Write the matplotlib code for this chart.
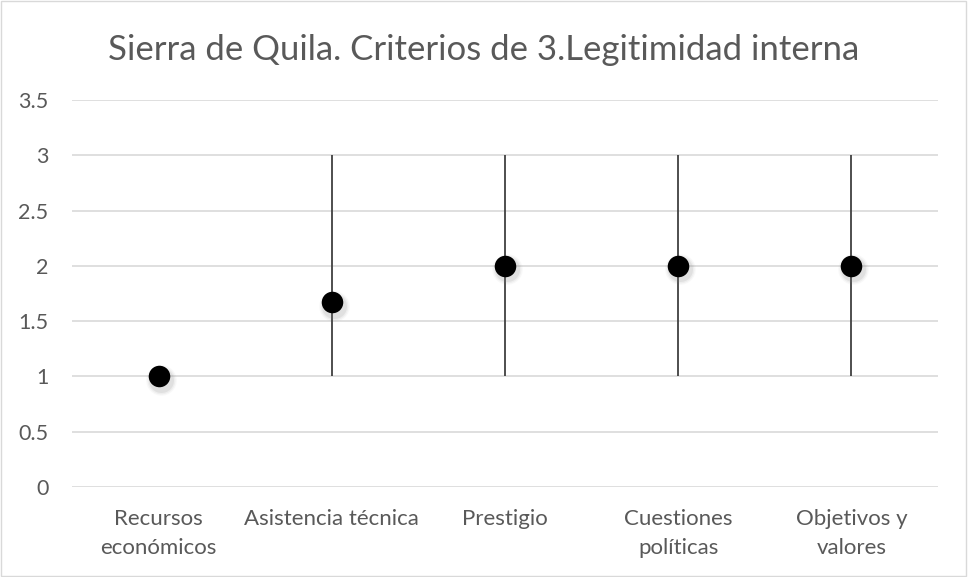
import numpy as np
import matplotlib.pyplot as plt
from matplotlib.patches import Rectangle

categories = ["Recursos\neconómicos", "Asistencia técnica", "Prestigio",
              "Cuestiones\npolíticas", "Objetivos y\nvalores"]
means = [1.0, 1.67, 2.0, 2.0, 2.0]
lows = [1.0, 1.0, 1.0, 1.0, 1.0]
highs = [1.0, 3.0, 3.0, 3.0, 3.0]
yticks = [0, 0.5, 1, 1.5, 2, 2.5, 3, 3.5]
ytick_labels = ["0", "0.5", "1", "1.5", "2", "2.5", "3", "3.5"]

plt.rcParams['font.family'] = ['Lato', 'DejaVu Sans']

fig = plt.figure(figsize=(9.68, 5.77), dpi=100)
ax = fig.add_axes([0.0744, 0.156, 0.8946, 0.6707])

x = np.arange(len(categories))

# high-low lines
ax.vlines(x, lows, highs, color="#404040", lw=1.3, zorder=3)

# soft shadow under markers
for s, a in [(22, 0.05), (20, 0.08), (18, 0.12)]:
    ax.plot(x + 0.012, np.array(means) - 0.03, 'o', ms=s, color="grey",
            alpha=a, mec='none', zorder=4)
ax.plot(x, means, 'o', ms=15.5, color="black", mec='none', zorder=5)

ax.set_xlim(-0.5, len(categories) - 0.5)
ax.set_ylim(0, 3.5)
ax.set_yticks(yticks)
ax.set_yticklabels(ytick_labels)
ax.set_xticks(x)
ax.set_xticklabels(categories, linespacing=1.55)
ax.grid(axis='y', color="#d9d9d9", lw=1.2)
ax.set_axisbelow(True)
for sp in ax.spines.values():
    sp.set_visible(False)
ax.tick_params(axis='x', length=0, labelsize=16, colors="#595959", pad=16)
ax.tick_params(axis='y', length=0, labelsize=15.5, colors="#595959", pad=17)
for lab in ax.get_xticklabels():
    lab.set_verticalalignment('top')

fig.text(0.5, 0.914, "Sierra de Quila. Criterios de 3.Legitimidad interna",
         ha='center', va='center', fontsize=25, color="#595959")

fig.patches.append(Rectangle((0.001, 0.001), 0.997, 0.997, transform=fig.transFigure,
                             fill=False, edgecolor="#d9d9d9", lw=1))

fig.savefig("out.png", dpi=100)
